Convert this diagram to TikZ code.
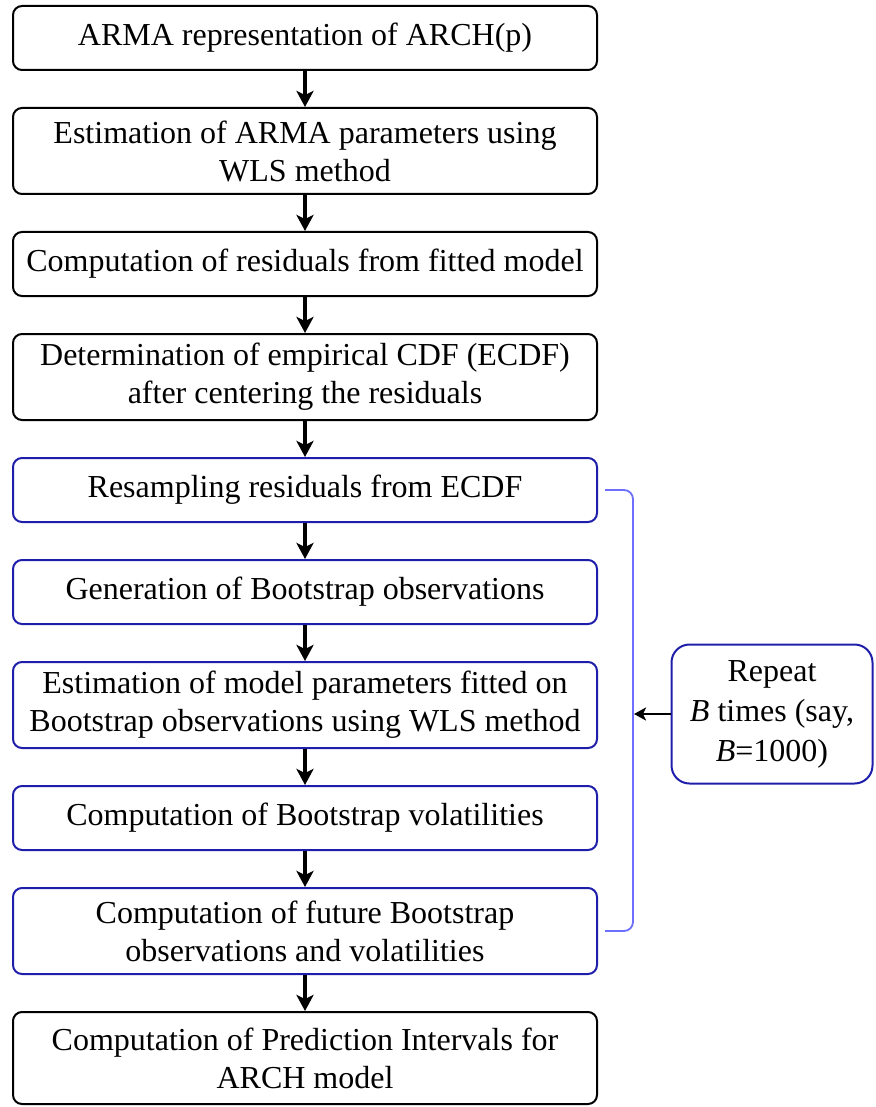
\documentclass[tikz,border=0pt]{standalone}
\usepackage{fontspec}
\setmainfont{Liberation Serif}
\usepackage{xcolor}
\usetikzlibrary{arrows.meta, positioning, calc}

\definecolor{loopblue}{RGB}{30,30,170}
\definecolor{bracketblue}{RGB}{110,110,255}

\begin{document}
\begin{tikzpicture}[
        x=1pt, y=1pt,
        base/.style={
            draw, align=center, minimum height=64pt, minimum width=584pt,
            inner sep=2pt, font=\fontsize{32}{38}\selectfont,
            rounded corners=9pt, line width=2pt
        },
        plain/.style={base, draw=black},
        loop/.style={base, draw=loopblue},
        tall/.style={minimum height=86pt},
        note/.style={
            draw=loopblue, align=center, minimum width=201pt, minimum height=139pt,
            inner sep=2pt, font=\fontsize{32}{40}\selectfont,
            rounded corners=18pt, line width=2pt
        },
        arrow/.style={line width=3.4pt, -{Stealth[length=16pt, width=17pt, inset=4pt]}},
        backarrow/.style={line width=2.4pt, -{Stealth[length=12pt, width=13pt, inset=3pt]}},
        bracket/.style={draw=bracketblue, line width=1.8pt, rounded corners=9pt}
    ]

        \useasboundingbox (0,0) rectangle (875,-1107);

        % Nodes (blocks)
        \node[plain] (arma) at (305,-38) {ARMA representation of ARCH(p)};

        \node[plain, tall, below=36pt of arma] (estarma) {Estimation of ARMA parameters using \\ WLS method};

        \node[plain, below=36pt of estarma] (resid) {Computation of residuals from fitted model};

        \node[plain, tall, below=36pt of resid] (ecdf) {Determination of empirical CDF (ECDF) \\ after centering the residuals};

        \node[loop, below=36pt of ecdf] (resamp) {Resampling residuals from ECDF};

        \node[loop, below=36pt of resamp] (gen) {Generation of Bootstrap observations};

        \node[loop, tall, below=36pt of gen] (estboot) {Estimation of model parameters fitted on \\ Bootstrap observations using WLS method};

        \node[loop, below=36pt of estboot] (vol) {Computation of Bootstrap volatilities};

        \node[loop, tall, below=36pt of vol] (future) {Computation of future Bootstrap \\ observations and volatilities};

        \node[plain, minimum height=92pt, below=36pt of future] (pi) {Computation of Prediction Intervals for \\ ARCH model};

        \node[note] (rep) at (772,-714) {Repeat \\ \textit{B} times (say, \\ \textit{B}=1000)};

        % Arrows
        \draw[arrow] (arma) -- (estarma);
        \draw[arrow] (estarma) -- (resid);
        \draw[arrow] (resid) -- (ecdf);
        \draw[arrow] (ecdf) -- (resamp);
        \draw[arrow] (resamp) -- (gen);
        \draw[arrow] (gen) -- (estboot);
        \draw[arrow] (estboot) -- (vol);
        \draw[arrow] (vol) -- (future);
        \draw[arrow] (future) -- (pi);

        % Loop bracket
        \coordinate (brtop) at ($(resamp.east)+(7,0)$);
        \coordinate (brbot) at ($(future.east)+(7,0)$);
        \draw[bracket] (brtop) -- ++(28,0) |- (brbot);
        \path (brtop) ++(29,0) coordinate (brx);
        \coordinate (brmid) at (brx |- rep.west);
        \draw[backarrow] (rep.west) -- (brmid);

    \end{tikzpicture}
\end{document}
